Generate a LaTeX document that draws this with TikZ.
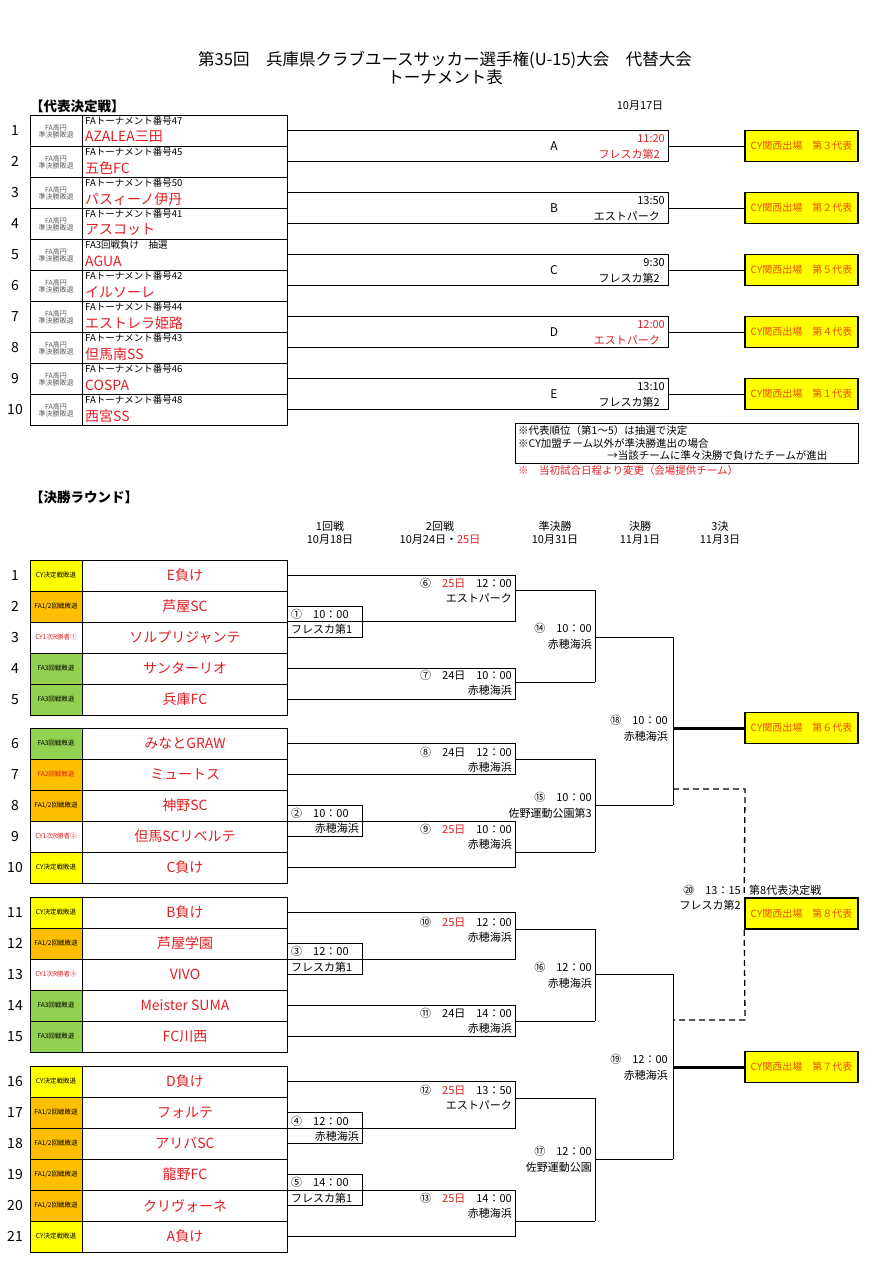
\documentclass[tikz,border=0pt]{standalone}
\usepackage{fontspec}
\setmainfont{Noto Sans CJK JP}
\definecolor{tred}{RGB}{225,30,35}
\definecolor{tor}{RGB}{235,80,0}
\definecolor{tyel}{RGB}{255,255,0}
\definecolor{tora}{RGB}{255,190,0}
\definecolor{tgrn}{RGB}{146,208,80}
\definecolor{tgray}{RGB}{90,90,90}
\newcommand{\fs}[1]{\fontsize{#1}{#1}\selectfont}
\tikzset{
 ln/.style={line width=0.8pt},
 qbox/.style={draw,line width=1.6pt,fill=tyel,minimum width=113pt,minimum height=31pt,inner sep=0pt,font=\fs{10},text=tor},
 rt/.style={anchor=east,inner sep=0pt,font=\fs{11}},
 lt/.style={anchor=west,inner sep=0pt,font=\fs{11}},
}
\begin{document}
\begin{tikzpicture}[x=1pt,y=-1pt]
\useasboundingbox (0,0) rectangle (871,1265);
% title
\node[font=\fs{16.5}] (t1) at (445,60) {第35回　兵庫県クラブユースサッカー選手権(U-15)大会　代替大会};
\node[font=\fs{16.5}] (t2) at (445,77) {トーナメント表};
\node[lt,font=\bfseries\fs{13.5}] (h1) at (30,106) {【代表決定戦】};
\node[font=\fs{11}] (d17) at (640,106) {10月17日};
% top table
\foreach \u/\tm [count=\i] in {FAトーナメント番号47/AZALEA三田,FAトーナメント番号45/五色FC,FAトーナメント番号50/パスィーノ伊丹,FAトーナメント番号41/アスコット,FA3回戦負け　抽選/AGUA,FAトーナメント番号42/イルソーレ,FAトーナメント番号44/エストレラ姫路,FAトーナメント番号43/但馬南SS,FAトーナメント番号46/COSPA,FAトーナメント番号48/西宮SS}{
 \pgfmathsetmacro\t{115+31*(\i-1)}
 \draw[ln] (30,\t) rectangle (287,\t+31) (82,\t)--(82,\t+31);
 \node[font=\fs{14}] (n\i) at (15,\t+15.5) {\i};
 \node[font=\fs{7},text=tgray,align=center,inner sep=0pt] (l\i) at (56,\t+16) {FA高円\\準決勝敗退};
 \node[lt,font=\fs{9.5}] (u\i) at (85,\t+6) {\u};
 \node[lt,font=\fs{14},text=tred] (m\i) at (85,\t+22) {\tm};
}
\foreach \L/\tm/\ve/\cc/\q [count=\k from 0] in {A/11:20/フレスカ第2/tred/３,B/13:50/エストパーク/black/２,C/9:30/フレスカ第2/black/５,D/12:00/エストパーク/tred/４,E/13:10/フレスカ第2/black/１}{
 \pgfmathsetmacro\ya{130.5+62*\k}
 \pgfmathsetmacro\ym{\ya+15.5}
 \draw[ln] (287,\ya)--(668,\ya)--(668,\ya+31)--(287,\ya+31);
 \node[qbox] (q\L) at (801.5,\ym) {CY関西出場　第\q 代表};
 \draw[ln] (668,\ym)--(q\L.west);
 \node[font=\fs{12}] (L\L) at (554,\ym) {\L};
 \node[rt,text=\cc] (tt\L) at (665,\ym-7) {\tm};
 \node[rt,text=\cc] (tv\L) at (660,\ym+8.5) {\ve};
}
% notes
\draw[ln] (515,423)--(858,423)--(858,463)--(515,463)--cycle;
\node[lt,font=\fontsize{10.5}{12.5}\selectfont,align=left] (nt) at (518,443) {※代表順位（第1～5）は抽選で決定\\※CY加盟チーム以外が準決勝進出の場合\\\hspace{8.5em}→当該チームに準々決勝で負けたチームが進出};
\node[lt,font=\fs{10.5},text=tred] (nr) at (518,471) {※　当初試合日程より変更（会場提供チーム）};
% final round headers
\node[lt,font=\bfseries\fs{13.5}] (h2) at (30,497) {【決勝ラウンド】};
\node[font=\fontsize{11}{13}\selectfont,align=center] (c1) at (330,533) {1回戦\\10月18日};
\node[font=\fontsize{11}{13}\selectfont,align=center] (c2) at (440,533) {2回戦\\10月24日・\textcolor{tred}{25日}};
\node[font=\fontsize{11}{13}\selectfont,align=center] (c3) at (555,533) {準決勝\\10月31日};
\node[font=\fontsize{11}{13}\selectfont,align=center] (c4) at (640,533) {決勝\\11月1日};
\node[font=\fontsize{11}{13}\selectfont,align=center] (c5) at (720,533) {3決\\11月3日};
% team rows
\newcommand{\frow}[6]{%
 \draw[ln,fill=#3] (30,#1) rectangle (82,#1+31);
 \draw[ln] (82,#1) rectangle (287,#1+31);
 \node[font=\fs{14}] (fn#2) at (15,#1+15.5) {#2};
 \node[font=\fs{6.5},text=#4,inner sep=0pt] (fl#2) at (56,#1+15.5) {#5};
 \node[font=\fs{14},text=tred] (ft#2) at (185,#1+15.5) {#6};
}
\frow{560}{1}{tyel}{black}{CY決定戦敗退}{E負け}
\frow{591}{2}{tora}{black}{FA1/2回戦敗退}{芦屋SC}
\frow{622}{3}{white}{tred}{CY1次R勝者①}{ソルプリジャンテ}
\frow{653}{4}{tgrn}{black}{FA3回戦敗退}{サンターリオ}
\frow{684}{5}{tgrn}{black}{FA3回戦敗退}{兵庫FC}
\frow{728}{6}{tgrn}{black}{FA3回戦敗退}{みなとGRAW}
\frow{759}{7}{tora}{tred}{FA2回戦敗退}{ミュートス}
\frow{790}{8}{tora}{black}{FA1/2回戦敗退}{神野SC}
\frow{821}{9}{white}{tred}{CY1次R勝者②}{但馬SCリベルテ}
\frow{852}{10}{tyel}{black}{CY決定戦敗退}{C負け}
\frow{897}{11}{tyel}{black}{CY決定戦敗退}{B負け}
\frow{928}{12}{tora}{black}{FA1/2回戦敗退}{芦屋学園}
\frow{959}{13}{white}{tred}{CY1次R勝者③}{VIVO}
\frow{990}{14}{tgrn}{black}{FA3回戦敗退}{Meister SUMA}
\frow{1021}{15}{tgrn}{black}{FA3回戦敗退}{FC川西}
\frow{1066}{16}{tyel}{black}{CY決定戦敗退}{D負け}
\frow{1097}{17}{tora}{black}{FA1/2回戦敗退}{フォルテ}
\frow{1128}{18}{tora}{black}{FA1/2回戦敗退}{アリバSC}
\frow{1159}{19}{tora}{black}{FA1/2回戦敗退}{龍野FC}
\frow{1190}{20}{tora}{black}{FA1/2回戦敗退}{クリヴォーネ}
\frow{1221}{21}{tyel}{black}{CY決定戦敗退}{A負け}
% round 1
\draw[ln] (287,606.5) rectangle (362,637.5) (362,621)--(515,621);
\node[lt] (r1a) at (291,614) {①　10：00};
\node[lt] (r1b) at (291,629) {フレスカ第1};
\draw[ln] (287,805.5) rectangle (362,836.5) (362,821)--(515,821);
\node[lt] (r2a) at (291,813) {②　10：00};
\node[rt] (r2b) at (359,828) {赤穂海浜};
\draw[ln] (287,943.5) rectangle (362,974.5) (362,959)--(515,959);
\node[lt] (r3a) at (291,951) {③　12：00};
\node[lt] (r3b) at (291,967) {フレスカ第1};
\draw[ln] (287,1112.5) rectangle (362,1143.5) (362,1128)--(515,1128);
\node[lt] (r4a) at (291,1121) {④　12：00};
\node[rt] (r4b) at (359,1136) {赤穂海浜};
\draw[ln] (287,1174.5) rectangle (362,1205.5) (362,1190)--(515,1190);
\node[lt] (r5a) at (291,1182) {⑤　14：00};
\node[lt] (r5b) at (291,1198) {フレスカ第1};
% round 2
\foreach \ya/\yb/\yo in {575.5/621/590, 668.5/699.5/682, 743.5/774.5/759, 821/867.5/852, 912.5/959/929, 1005.5/1036.5/1021, 1081.5/1128/1098, 1190/1236.5/1221}{
 \draw[ln] (287,\ya)--(515,\ya)--(515,\yb)--(287,\yb) (515,\yo)--(595,\yo);
}
\foreach \n/\d/\dc/\tm/\ve/\y in {⑥/25日/tred/12：00/エストパーク/583,⑦/24日/black/10：00/赤穂海浜/675,⑧/24日/black/12：00/赤穂海浜/752,⑨/25日/tred/10：00/赤穂海浜/829,⑩/25日/tred/12：00/赤穂海浜/922,⑪/24日/black/14：00/赤穂海浜/1013,⑫/25日/tred/13：50/エストパーク/1090,⑬/25日/tred/14：00/赤穂海浜/1198}{
 \node[rt] at (512,\y) {\n\quad\textcolor{\dc}{\d}\quad\tm};
 \node[rt] at (512,\y+15) {\ve};
}
% semifinals
\foreach \ya/\yb/\yo in {590/682/637, 759/852/805, 929/1021/974, 1098/1221/1159}{
 \draw[ln] (595,\ya)--(595,\yb) (595,\yo)--(673,\yo);
}
\foreach \n/\tm/\ve/\y in {⑭/10：00/赤穂海浜/628,⑮/10：00/佐野運動公園第3/797,⑯/12：00/赤穂海浜/967,⑰/12：00/佐野運動公園/1151}{
 \node[rt] at (592,\y) {\n\quad\tm};
 \node[rt] at (592,\y+16) {\ve};
}
% finals
\draw[ln] (673,637)--(673,805) (673,974)--(673,1159);
\node[qbox] (q6) at (801.5,728) {CY関西出場　第６代表};
\node[qbox] (q7) at (801.5,1067) {CY関西出場　第７代表};
\node[qbox] (q8) at (801.5,913.5) {CY関西出場　第８代表};
\draw[line width=3pt] (673,728)--(q6.west);
\draw[line width=3pt] (673,1067)--(q7.west);
\draw[line width=1.3pt,dash pattern=on 6pt off 4pt] (673,789)--(745,789)--(q8.north west);
\draw[line width=1.3pt,dash pattern=on 6pt off 4pt] (q8.south west)--(745,1020)--(673,1020);
\node[rt] at (668,720) {⑱\quad10：00};
\node[rt] at (668,736) {赤穂海浜};
\node[rt] at (668,1059) {⑲\quad12：00};
\node[rt] at (668,1075) {赤穂海浜};
\node[rt] at (741,890) {⑳\quad13：15};
\node[rt] at (741,905) {フレスカ第2};
\node[lt] at (749,890) {第8代表決定戦};
\end{tikzpicture}
\end{document}
